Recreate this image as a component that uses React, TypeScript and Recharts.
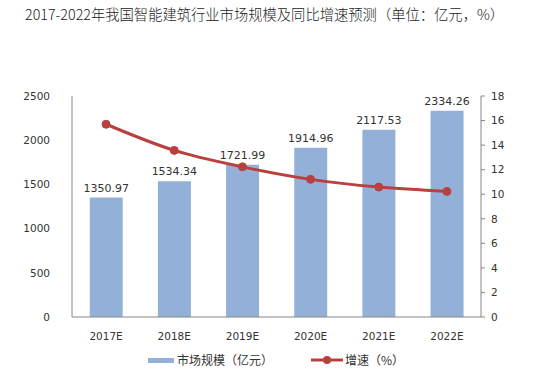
import * as React from "react";
import {
  ComposedChart,
  Bar,
  Line,
  XAxis,
  YAxis,
  LabelList,
} from "recharts";

const years = ["2017E", "2018E", "2019E", "2020E", "2021E", "2022E"];
const marketSize = [1350.97, 1534.34, 1721.99, 1914.96, 2117.53, 2334.26];
const growthRate = [15.7, 13.57, 12.23, 11.21, 10.58, 10.23];
const leftTicks = [0, 500, 1000, 1500, 2000, 2500];
const rightTicks = [0, 2, 4, 6, 8, 10, 12, 14, 16, 18];

const BAR_COLOR = "#93b1d8";
const LINE_COLOR = "#b8403f";
const AXIS_COLOR = "#868686";
const TEXT_COLOR = "#333";
const FONT = "'DejaVu Sans', sans-serif";
const CJK = "'Noto Sans CJK SC', sans-serif";

const data = years.map((year, i) => ({
  year,
  size: marketSize[i],
  growth: growthRate[i],
}));

export default function App() {
  return (
    <div
      style={{
        position: "absolute",
        left: 0,
        top: 0,
        width: 549,
        height: 377,
        background: "#fff",
        fontFamily: FONT,
      }}
    >
      <div
        style={{
          position: "absolute",
          left: 25,
          top: 4,
          fontFamily: CJK,
          fontSize: 14.3,
          fontWeight: 300,
          color: "#222",
          lineHeight: "20px",
          whiteSpace: "nowrap",
        }}
      >
        2017-2022年我国智能建筑行业市场规模及同比增速预测（单位：亿元，%）
      </div>
      <ComposedChart
        width={549}
        height={377}
        data={data}
        margin={{ top: 96, right: 0, bottom: 30, left: 0 }}
        barCategoryGap="26%"
      >
        <XAxis
          dataKey="year"
          axisLine={{ stroke: AXIS_COLOR }}
          tickLine={false}
          tickMargin={10}
          height={30}
          tick={{ fill: TEXT_COLOR, fontSize: 10.5, fontFamily: FONT }}
        />
        <YAxis
          yAxisId="left"
          orientation="left"
          domain={[0, 2500]}
          ticks={leftTicks}
          width={72}
          axisLine={{ stroke: AXIS_COLOR }}
          tickLine={false}
          tickMargin={16}
          tick={{ fill: TEXT_COLOR, fontSize: 10.5, fontFamily: FONT }}
        />
        <YAxis
          yAxisId="right"
          orientation="right"
          domain={[0, 18]}
          ticks={rightTicks}
          width={68}
          axisLine={{ stroke: AXIS_COLOR }}
          tickLine={{ stroke: AXIS_COLOR }}
          tickSize={4}
          tickMargin={6}
          tick={{ fill: TEXT_COLOR, fontSize: 10.5, fontFamily: FONT }}
        />
        <Bar
          yAxisId="left"
          dataKey="size"
          fill={BAR_COLOR}
          isAnimationActive={false}
        >
          <LabelList
            dataKey="size"
            position="top"
            offset={6}
            formatter={(v: number) => v.toFixed(2)}
            style={{ fill: TEXT_COLOR, fontSize: 11, fontFamily: FONT }}
          />
        </Bar>
        <Line
          yAxisId="right"
          dataKey="growth"
          type="monotone"
          stroke={LINE_COLOR}
          strokeWidth={3}
          dot={{ r: 4, fill: LINE_COLOR, stroke: LINE_COLOR, strokeWidth: 1 }}
          isAnimationActive={false}
        />
      </ComposedChart>
      <div
        style={{
          position: "absolute",
          top: 352,
          left: 148,
          display: "flex",
          alignItems: "center",
          fontFamily: CJK,
          fontSize: 12,
          color: TEXT_COLOR,
          lineHeight: "16px",
        }}
      >
        <span style={{ width: 26, height: 5, background: BAR_COLOR, marginRight: 3 }} />
        <span>市场规模（亿元）</span>
        <span style={{ width: 38 }} />
        <svg width={32} height={10}>
          <line x1={0} y1={5} x2={32} y2={5} stroke={LINE_COLOR} strokeWidth={3} />
          <circle cx={16} cy={5} r={4} fill={LINE_COLOR} />
        </svg>
        <span style={{ marginLeft: 2 }}>增速（%）</span>
      </div>
    </div>
  );
}
